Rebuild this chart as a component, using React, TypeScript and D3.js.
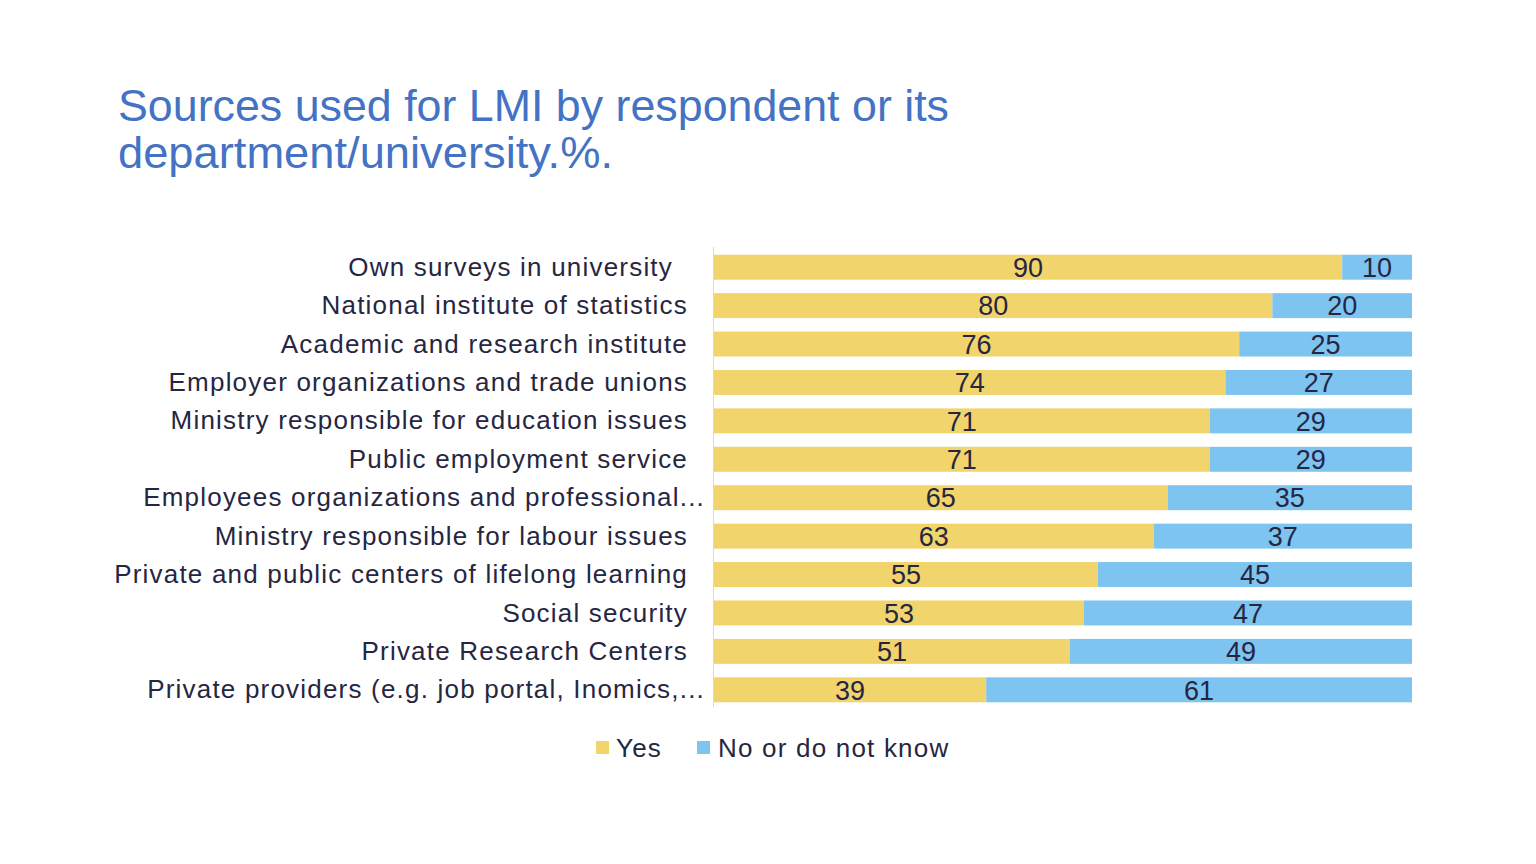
import React, { useEffect, useRef } from "react";
import * as d3 from "d3";

const categories = [
  "Own surveys in university",
  "National institute of statistics",
  "Academic and research institute",
  "Employer organizations and trade unions",
  "Ministry responsible for education issues",
  "Public employment service",
  "Employees organizations and professional...",
  "Ministry responsible for labour issues",
  "Private and public centers of lifelong learning",
  "Social security",
  "Private Research Centers",
  "Private providers (e.g. job portal, Inomics,...",
];
const yesValues = [90, 80, 76, 74, 71, 71, 65, 63, 55, 53, 51, 39];
const noValues = [10, 20, 25, 27, 29, 29, 35, 37, 45, 47, 49, 61];
const seriesNames = ["Yes", "No or do not know"];
const seriesColors = ["#F2D46D", "#7DC4F1"];
const titleLines = ["Sources used for LMI by respondent or its", "department/university.%."];

const W = 1536;
const H = 864;
const FONT = "'Liberation Sans', Arial, sans-serif";

export default function App() {
  const ref = useRef<SVGSVGElement>(null);

  useEffect(() => {
    const svg = d3.select(ref.current);
    svg.selectAll("*").remove();

    const rows = categories.map((c, i) => ({ cat: c, yes: yesValues[i], no: noValues[i] }));
    const keys = ["yes", "no"];
    const stack = d3.stack<any>().keys(keys).offset(d3.stackOffsetExpand);
    const stacked = stack(rows);

    const x = d3.scaleLinear().domain([0, 1]).range([714, 1412]);
    const y = d3.scaleBand().domain(categories).range([248, 709]).paddingInner(0.35).paddingOuter(0.175);

    // title
    const title = svg.append("g");
    titleLines.forEach((t, i) => {
      title
        .append("text")
        .attr("x", 118)
        .attr("y", 121 + i * 47)
        .attr("font-family", FONT)
        .attr("font-size", 45)
        .attr("fill", "#4472C4")
        .attr("textLength", i === 0 ? 831 : 495)
        .attr("lengthAdjust", "spacingAndGlyphs")
        .text(t);
    });

    // axis line
    svg
      .append("line")
      .attr("x1", 713.5)
      .attr("x2", 713.5)
      .attr("y1", 247)
      .attr("y2", 707)
      .attr("stroke", "#D9D9D9")
      .attr("stroke-width", 1);

    // bars
    const groups = svg
      .selectAll("g.series")
      .data(stacked)
      .join("g")
      .attr("class", "series")
      .attr("fill", (_d, i) => seriesColors[i]);

    groups
      .selectAll("rect")
      .data((d) => d.map((v) => ({ v, cat: v.data.cat })))
      .join("rect")
      .attr("x", (d) => x(d.v[0]))
      .attr("width", (d) => x(d.v[1]) - x(d.v[0]))
      .attr("y", (d) => y(d.cat)!)
      .attr("height", y.bandwidth());

    // value labels
    stacked.forEach((s, si) => {
      svg
        .append("g")
        .selectAll("text")
        .data(s)
        .join("text")
        .attr("x", (d) => (x(d[0]) + x(d[1])) / 2)
        .attr("y", (d) => y(d.data.cat)! + y.bandwidth() / 2)
        .attr("dy", "0.36em")
        .attr("text-anchor", "middle")
        .attr("font-family", FONT)
        .attr("font-size", 27)
        .attr("fill", "#262642")
        .text((d) => (si === 0 ? d.data.yes : d.data.no));
    });

    // category labels
    svg
      .append("g")
      .selectAll("text")
      .data(categories)
      .join("text")
      .attr("x", (d) => (d.endsWith("...") ? 705 : d.startsWith("Own") ? 673 : 688))
      .attr("y", (d) => y(d)! + y.bandwidth() / 2)
      .attr("dy", "0.33em")
      .attr("text-anchor", "end")
      .attr("font-family", FONT)
      .attr("font-size", 26)
      .attr("letter-spacing", 1.2)
      .attr("fill", "#262642")
      .text((d) => d);

    // legend
    const legendItems = [
      { name: seriesNames[0], color: seriesColors[0], sx: 596, tx: 616 },
      { name: seriesNames[1], color: seriesColors[1], sx: 697, tx: 718 },
    ];
    const lg = svg.append("g");
    legendItems.forEach((it) => {
      lg.append("rect").attr("x", it.sx).attr("y", 741).attr("width", 13).attr("height", 13).attr("fill", it.color);
      lg.append("text")
        .attr("x", it.tx)
        .attr("y", 757)
        .attr("font-family", FONT)
        .attr("font-size", 26)
        .attr("letter-spacing", 1.2)
        .attr("fill", "#262642")
        .text(it.name);
    });
  }, []);

  return (
    <svg
      ref={ref}
      width={W}
      height={H}
      style={{ position: "absolute", left: 0, top: 0, background: "#fff" }}
    />
  );
}
